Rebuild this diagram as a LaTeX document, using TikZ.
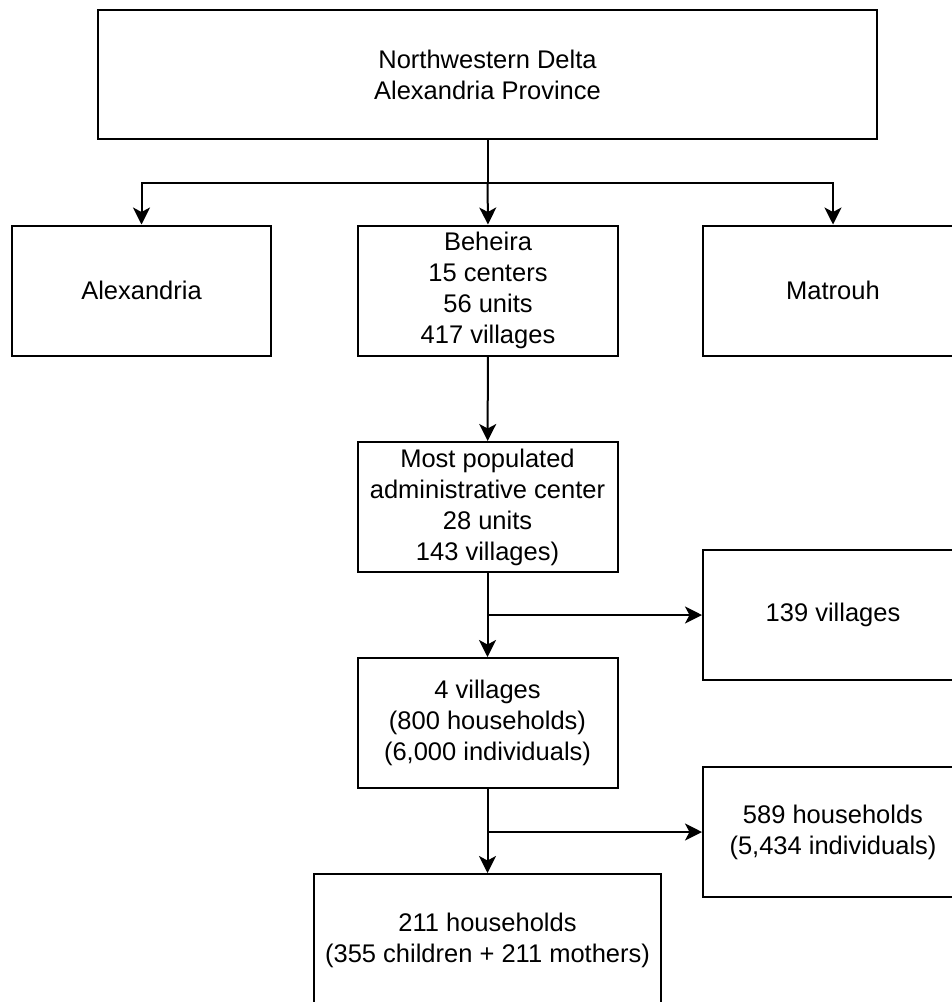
\documentclass[tikz,border=0pt]{standalone}
\usepackage{fontspec}
\setmainfont{Liberation Sans}
\usetikzlibrary{arrows.meta}
\begin{document}
\begin{tikzpicture}[x=1pt,y=-1pt,
  box/.style={draw=black, line width=2pt, inner sep=0pt, align=center,
    font=\fontsize{25.5}{31}\selectfont, text=black},
  arr/.style={line width=2pt, -{Stealth[length=17pt,width=17pt,inset=4.5pt]}},
  ln/.style={line width=2pt}]
\useasboundingbox (0,0) rectangle (952,1002);
\clip (0,0) rectangle (952,1002);
\fill[white] (0,0) rectangle (952,1002);
\node[box, minimum width=779pt, minimum height=129pt] (top) at (487.5,74.5) {Northwestern Delta\\Alexandria Province};
\node[box, minimum width=259pt, minimum height=130pt] (alex) at (141.5,290.5) {Alexandria};
\node[box, minimum width=260pt, minimum height=130pt] (beh) at (488,290.5) {Beheira\\15 centers\\56 units\\417 villages};
\node[box, minimum width=260pt, minimum height=130pt] (mat) at (833,290.5) {Matrouh};
\node[box, minimum width=260pt, minimum height=130pt] (mp) at (487.5,507) {Most populated\\administrative center\\28 units\\143 villages)};
\node[box, minimum width=260pt, minimum height=130pt] (v139) at (833,615) {139 villages};
\node[box, minimum width=260pt, minimum height=130pt] (v4) at (487.5,723) {4 villages\\(800 households)\\(6,000 individuals)};
\node[box, minimum width=260pt, minimum height=130pt] (h589) at (833,832) {589 households\\(5,434 individuals)};
\node[box, minimum width=347pt, minimum height=132pt] (h211) at (487.5,940) {211 households\\(355 children + 211 mothers)};
\coordinate (split) at (487.5,183);
\draw[ln] (top.south) -- (split);
\draw[arr] (split) -| (alex.north);
\draw[arr] (split) -- (beh.north);
\draw[arr] (split) -| (mat.north);
\draw[arr] (beh) -- (mp);
\draw[arr] (mp) -- (v4);
\draw[arr, line width=1.7pt] (mp.south |- v139.west) -- (v139.west);
\draw[arr] (v4) -- (h211);
\draw[arr, line width=1.7pt] (v4.south |- h589.west) -- (h589.west);
\end{tikzpicture}
\end{document}
